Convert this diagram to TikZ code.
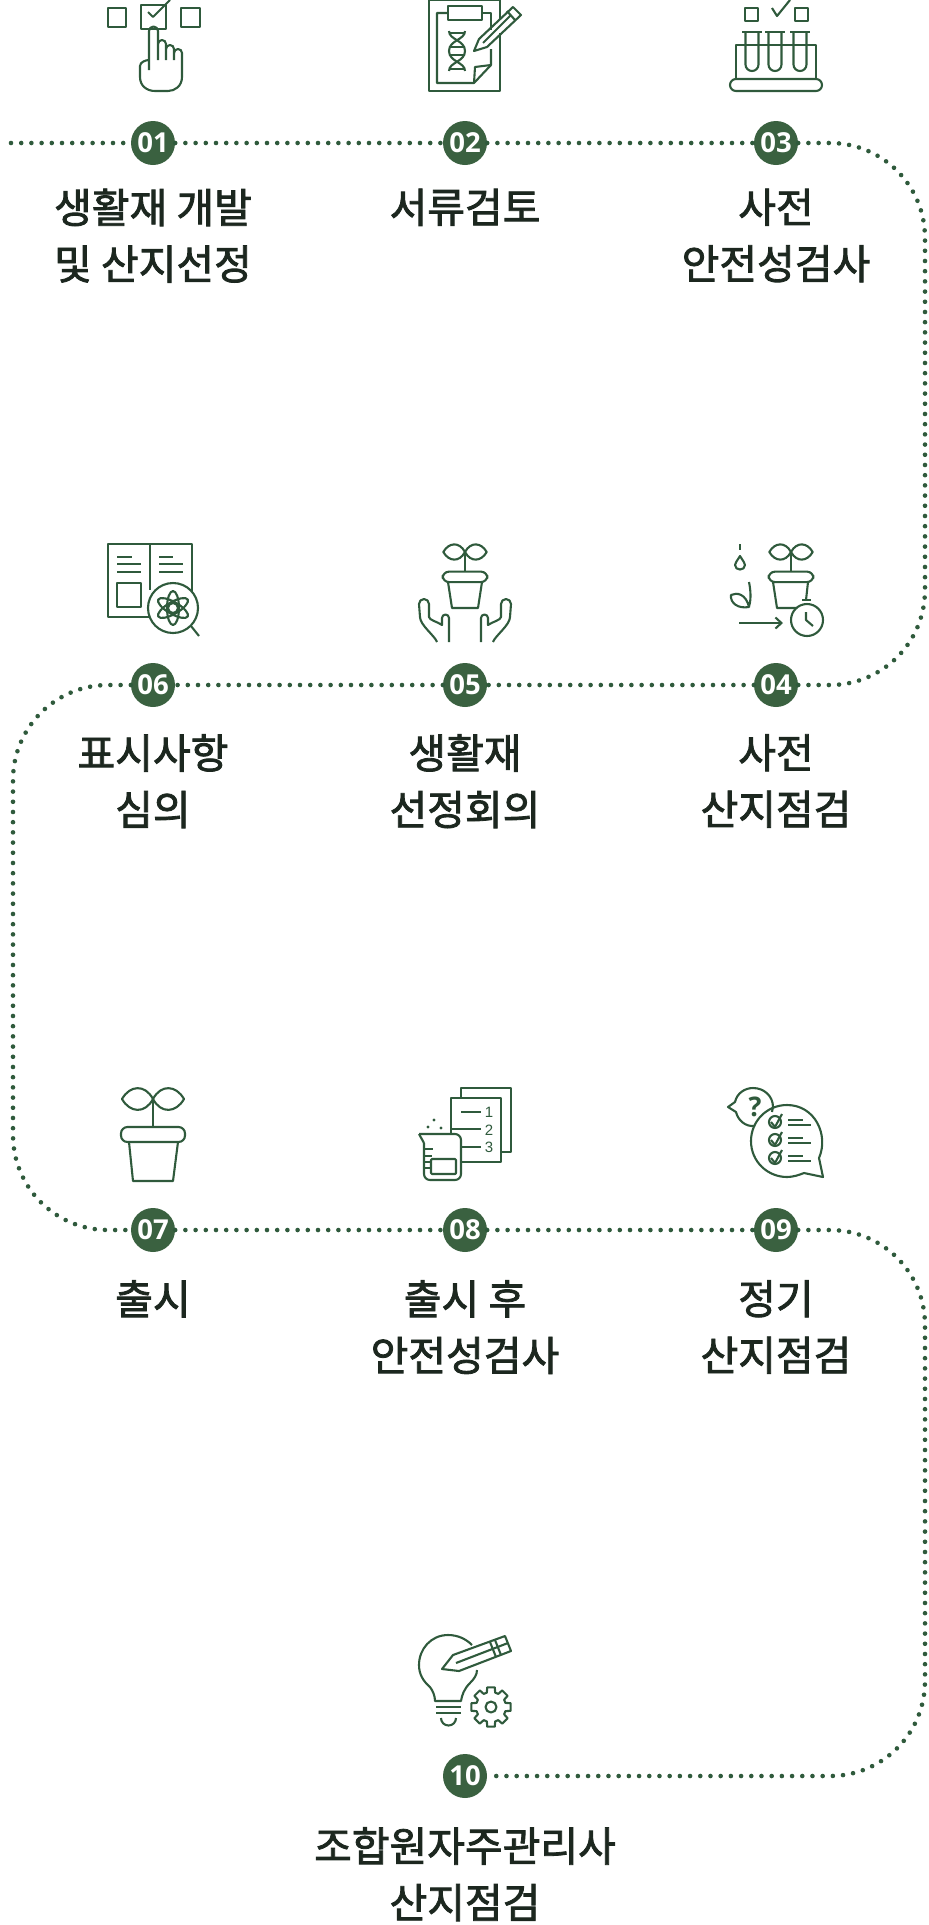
\documentclass[tikz,border=0pt]{standalone}
\usepackage{fontspec}
\usepackage{xcolor}
\usetikzlibrary{arrows.meta}
\newfontfamily\korfont[FakeBold=2]{Noto Sans CJK KR}
\newfontfamily\numfont{Open Sans}
\setsansfont{Liberation Sans}
\definecolor{leafgreen}{HTML}{2F5A3C}
\definecolor{badgegreen}{HTML}{3A6140}
\definecolor{inkdark}{HTML}{1C271F}
\tikzset{
  stepbadge/.style={circle, fill=badgegreen, text=white, minimum size=44pt, inner sep=0pt, font=\numfont\bfseries\fontsize{27.5}{27.5}\selectfont},
  steplabel/.style={anchor=north, align=center, inner sep=0pt, text=inkdark, font=\korfont\fontsize{41}{56.5}\selectfont},
  dotline/.style={draw=leafgreen, line width=4.6pt, line cap=round, dash pattern=on 0pt off 10.2pt},
  icon/.style={draw=leafgreen, line width=2.1pt, line join=round},
  seedling/.pic={
    \draw[icon] (0,0) .. controls (8,-15) and (23,-14) .. (31,0) .. controls (23,14) and (8,15) .. (0,0);
    \draw[icon] (0,0) .. controls (-8,-15) and (-23,-14) .. (-31,0) .. controls (-23,14) and (-8,15) .. (0,0);
    \draw[icon] (0,0) -- (0,28);
    \draw[icon, rounded corners=6.5pt] (-32,28) rectangle (32,43);
  }
}
\begin{document}
\begin{tikzpicture}[x=1pt, y=-1pt]
\useasboundingbox (0,0) rectangle (929,1925);

% badges
\node[stepbadge] (n01) at (153,143) {01};
\node[stepbadge] (n02) at (465,143) {02};
\node[stepbadge] (n03) at (776,143) {03};
\node[stepbadge] (n04) at (776,685) {04};
\node[stepbadge] (n05) at (465,685) {05};
\node[stepbadge] (n06) at (153,685) {06};
\node[stepbadge] (n07) at (153,1230) {07};
\node[stepbadge] (n08) at (465,1230) {08};
\node[stepbadge] (n09) at (776,1230) {09};
\node[stepbadge] (n10) at (465,1776) {10};

% labels
\node[steplabel] (lab01) at (153,188.5) {생활재 개발\\및 산지선정};
\node[steplabel] (lab02) at (465,188.5) {서류검토};
\node[steplabel] (lab03) at (776,188.5) {사전\\안전성검사};
\node[steplabel] (lab04) at (776,734) {사전\\산지점검};
\node[steplabel] (lab05) at (465,734) {생활재\\선정회의};
\node[steplabel] (lab06) at (153,734) {표시사항\\심의};
\node[steplabel] (lab07) at (153,1280) {출시};
\node[steplabel] (lab08) at (465,1280) {출시 후\\안전성검사};
\node[steplabel] (lab09) at (776,1280) {정기\\산지점검};
\node[steplabel] (lab10) at (465,1827) {조합원자주관리사\\산지점검};

% dotted route
\coordinate (lineStart) at (11,143);
\coordinate (rightA) at (925,143);
\coordinate (rightB) at (925,685);
\coordinate (leftA) at (13,685);
\coordinate (leftB) at (13,1230);
\coordinate (rightC) at (925,1230);
\coordinate (rightD) at (925,1776);
\draw[dotline] (lineStart) -- (n01);
\draw[dotline] (n01) -- (n02);
\draw[dotline] (n02) -- (n03);
\draw[dotline, rounded corners=95pt] (n03) -- (rightA) -- (rightB) -- (n04);
\draw[dotline] (n04) -- (n05);
\draw[dotline] (n05) -- (n06);
\draw[dotline, rounded corners=95pt] (n06) -- (leftA) -- (leftB) -- (n07);
\draw[dotline] (n07) -- (n08);
\draw[dotline] (n08) -- (n09);
\draw[dotline, rounded corners=95pt] (n09) -- (rightC) -- (rightD) -- (n10);

% icon 01
\draw[icon] (108,8) rectangle (126,27);
\draw[icon] (141,5) rectangle (166,29);
\draw[icon] (181,8) rectangle (200,27);
\draw[icon] (148,12) -- (153,17) -- (170,0);
\draw[icon] (149,70) -- (149,31) arc (180:360:4.5) -- (158,60);
\draw[icon] (158,44) arc (180:360:4) -- (166,60);
\draw[icon] (166,49) arc (180:360:4) -- (174,60);
\draw[icon] (174,53) arc (180:360:4) -- (182,77) .. controls (182,86) and (175,91) .. (168,91) -- (155,91) .. controls (147,91) and (140,86) .. (140,77) -- (140,66) .. controls (140,62) and (146,60) .. (149,60);

% icon 02
\draw[icon] (500,20) -- (500,0) -- (429,0) -- (429,91) -- (500,91) -- (500,33);
\draw[icon] (491,30) -- (491,13) -- (482,13);
\draw[icon] (448,13) -- (437,13) -- (437,83) -- (474,83) -- (491,65) -- (491,49);
\draw[icon] (474,83) -- (475,67) -- (491,65);
\draw[icon] (448,6) rectangle (482,20);
\draw[icon] (474,51) -- (479,39) -- (513,7) -- (521,15) -- (487,47) -- cycle;
\draw[icon] (483,43) -- (511,15);
\draw[icon] (507,11) -- (515,20);
\draw[icon] (449,31) .. controls (449,40) and (465,40) .. (465,51) .. controls (465,62) and (449,62) .. (449,71);
\draw[icon] (465,31) .. controls (465,40) and (449,40) .. (449,51) .. controls (449,62) and (465,62) .. (465,71);
\foreach \y in {33,47,55,69} \draw[icon] (449,\y) -- (465,\y);

% icon 03
\draw[icon] (745,8) rectangle (758,21);
\draw[icon] (795,8) rectangle (808,21);
\draw[icon] (772,8) -- (777,16) -- (790,0);
\foreach \x in {752,775,800} {
  \draw[icon] (\x-10,32) -- (\x+10,32);
  \draw[icon] (\x-6.5,32) -- (\x-6.5,64.5) arc (180:0:6.5) -- (\x+6.5,32);
}
\draw[icon] (736,79) -- (736,45) -- (816,45) -- (816,79);
\draw[icon, rounded corners=6pt] (730,79) rectangle (822,91);

% icon 04
\draw[icon] (740,544) -- (740,550);
\draw[icon] (740,556) .. controls (737,561) and (735,563) .. (735,565) .. controls (735,571) and (745,571) .. (745,565) .. controls (745,563) and (743,561) .. (740,556) -- cycle;
\draw[icon] (749,582) .. controls (751,592) and (751,600) .. (749,607) .. controls (738,609) and (730,603) .. (731,595) .. controls (737,592) and (746,594) .. (749,607);
\pic[scale=.7] at (791,552) {seedling};
\draw[icon] (773,582) -- (777,608) -- (797,608);
\draw[icon] (808,582) -- (806,600);
\draw[icon] (802,600) -- (811,600);
\draw[icon] (807,620) circle (16);
\draw[icon] (806,612) -- (806,620) -- (813,626);
\draw[icon, -{Straight Barb[length=6pt,width=11pt]}] (739,623) -- (783,623);

% icon 05
\pic[scale=.7] at (465,552) {seedling};
\draw[icon] (448,582) -- (452,608) -- (478,608) -- (482,582);
\foreach \s in {1,-1} {
  \begin{scope}[shift={(465,0)}, x=\s pt]
    \draw[icon] (-28,642) .. controls (-30,636) and (-45,625) .. (-45,617) -- (-46,604) arc (180:360:5) -- (-36,617) .. controls (-36,620) and (-27,622) .. (-23,625) -- (-23,618) arc (180:360:3.5) -- (-16,642);
  \end{scope}
}

% icon 06
\draw[icon] (108,544) rectangle (192,617);
\draw[icon] (150,544) -- (150,590);
\draw[icon] (117,557) -- (132,557);
\draw[icon] (117,564) -- (141,564);
\draw[icon] (117,572) -- (141,572);
\draw[icon] (117,583) rectangle (141,607);
\draw[icon] (159,557) -- (173,557);
\draw[icon] (159,564) -- (183,564);
\draw[icon] (159,572) -- (183,572);
\draw[icon, fill=white] (173,608) circle (25);
\draw[icon] (191,626) -- (199,636);
\draw[icon] (173,608) circle (5);
\foreach \r in {90,30,-30} \draw[icon, rotate around={\r:(173,608)}] (173,608) ellipse (17 and 6);

% icon 07
\pic at (153,1099) {seedling};
\draw[icon] (129,1142) -- (133,1181) -- (173,1181) -- (178,1142);

% icon 08
\draw[icon] (461,1098) -- (461,1088) -- (511,1088) -- (511,1152) -- (501,1152);
\draw[icon] (451,1134) -- (451,1098) -- (501,1098) -- (501,1162) -- (461,1162);
\draw[icon] (461,1112) -- (481,1112);
\draw[icon] (451,1129) -- (481,1129);
\draw[icon] (461,1147) -- (481,1147);
\node[text=leafgreen, inner sep=0pt, font=\sffamily\fontsize{15}{15}\selectfont] (num1) at (489,1112) {1};
\node[text=leafgreen, inner sep=0pt, font=\sffamily\fontsize{15}{15}\selectfont] (num2) at (489,1130) {2};
\node[text=leafgreen, inner sep=0pt, font=\sffamily\fontsize{15}{15}\selectfont] (num3) at (489,1147) {3};
\draw[icon, rounded corners=6pt] (419,1134) -- (461,1134) -- (461,1180) -- (424,1180) -- (424,1143);
\draw[icon] (419,1134) -- (424,1143);
\draw[icon, rounded corners=1pt] (431,1159) rectangle (456,1174);
\foreach \y/\e in {1149/433,1156/432,1162/431,1168/431} \draw[icon] (425,\y) -- (\e,\y);
\fill[leafgreen] (428,1127) circle (1.6) (434,1120) circle (1.6) (441,1128) circle (1.6);

% icon 09
\draw[icon] (755,1126) .. controls (745,1127) and (738,1120) .. (736,1112) -- (728,1107) -- (735,1102) .. controls (737,1093) and (745,1088) .. (753,1088) .. controls (764,1088) and (773,1096) .. (773,1107) -- (772,1112);
\draw[icon] (819,1158) .. controls (829,1135) and (815,1105) .. (787,1105) .. controls (767,1105) and (751,1121) .. (751,1141) .. controls (751,1162) and (768,1177) .. (787,1177) .. controls (793,1177) and (799,1175) .. (804,1173) -- (823,1177) -- cycle;
\node[text=leafgreen, inner sep=0pt, font=\numfont\bfseries\fontsize{27}{27}\selectfont] (quest) at (755,1107) {?};
\foreach \y in {0,18,36} {
  \draw[icon] (775,1122+\y) circle (6);
  \draw[icon] (771,1122+\y) -- (775,1127+\y) -- (782,1114+\y);
  \draw[icon] (788,1120+\y) -- (803,1120+\y);
  \draw[icon] (788,1125+\y) -- (811,1125+\y);
}

% icon 10
\draw[icon] (472,1645) .. controls (466,1639) and (458,1635) .. (448,1635) .. controls (431,1635) and (419,1649) .. (419,1665) .. controls (419,1674) and (423,1681) .. (430,1687) .. controls (433,1691) and (435,1696) .. (435,1701) -- (461,1701) .. controls (462,1695) and (464,1689) .. (470,1683) .. controls (474,1679) and (477,1675) .. (477,1670);
\draw[icon] (442,1669) -- (453,1655) -- (505,1636) -- (511,1651) -- (459,1671) -- cycle;
\draw[icon] (456,1663) -- (508,1643);
\draw[icon] (490,1642) -- (496,1657);
\draw[icon] (495,1640) -- (501,1655);
\draw[icon] (436,1707) -- (461,1707);
\draw[icon] (436,1713) -- (461,1713);
\draw[icon] (441,1718) arc (180:0:7.5);
\begin{scope}[shift={(491,1707)}]
  \draw[icon] (-16:15) \foreach \a in {0,45,...,315} { -- (\a-16:15) -- (\a-11:20) -- (\a+11:20) -- (\a+16:15) -- (\a+29:15) } -- cycle;
  \draw[icon] (0,0) circle (5.5);
\end{scope}

\end{tikzpicture}
\end{document}
